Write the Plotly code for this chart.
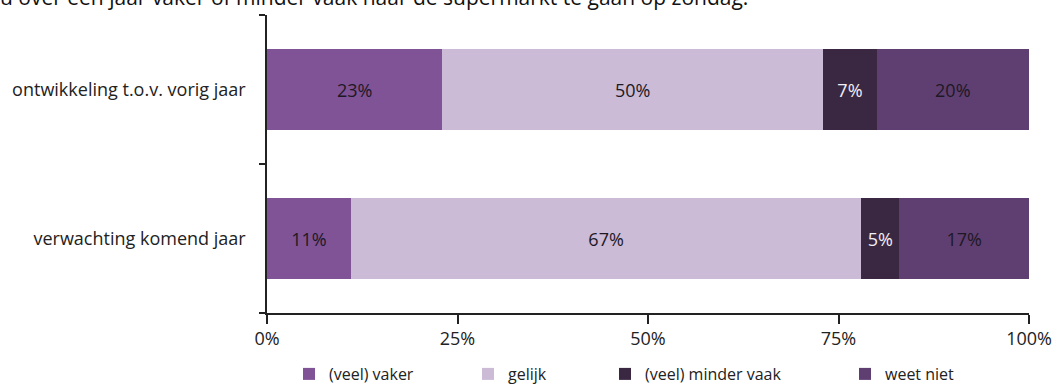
import plotly.graph_objects as go

# Survey answers per question (percentages, stacked to 100%)
categories = ["verwachting komend jaar", "ontwikkeling t.o.v. vorig jaar"]
series_names = ["(veel) vaker", "gelijk", "(veel) minder vaak", "weet niet"]
vaker = [11, 23]
gelijk = [67, 50]
minder_vaak = [5, 7]
weet_niet = [17, 20]
x_ticks = [0, 25, 50, 75, 100]
x_tick_labels = ["0%", "25%", "50%", "75%", "100%"]
header_text = "u over een jaar vaker of minder vaak naar de supermarkt te gaan op zondag."

series_values = [vaker, gelijk, minder_vaak, weet_niet]
colors = ["#7f5396", "#cbbbd6", "#3a2842", "#5f3f72"]
label_colors = ["#1e1824", "#1e1824", "#f2eef5", "#1e1824"]
legend_ids = ["legend", "legend2", "legend3", "legend4"]

FONT = "Open Sans, Liberation Sans, sans-serif"

W, H = 1055, 387
ML, MR, MT, MB = 267, 26, 15, 74
PW = W - ML - MR
PH = H - MT - MB


def px_x(px):
    return (px - ML) / PW


def px_y(py):
    return (MT + PH - py) / PH


fig = go.Figure()
for name, vals, col, lcol, lid in zip(series_names, series_values, colors, label_colors, legend_ids):
    fig.add_trace(go.Bar(
        y=categories,
        x=vals,
        name=name,
        orientation="h",
        marker=dict(color=col, line=dict(width=0)),
        text=[f"{v}%" for v in vals],
        textposition="inside",
        insidetextanchor="middle",
        textfont=dict(family=FONT, size=18, color=lcol),
        legend=lid,
        hoverinfo="skip",
    ))

# one legend per series so each entry sits at its own position
legend_text_px = [330, 509, 646, 886]
legend_common = dict(
    orientation="h",
    xref="container",
    yref="container",
    yanchor="middle",
    xanchor="left",
    y=(H - 374) / H,
    font=dict(family=FONT, size=16, color="#222222"),
    bgcolor="rgba(0,0,0,0)",
    borderwidth=0,
    tracegroupgap=0,
    itemwidth=30,
)
legend_layout = {}
for lid, tx in zip(legend_ids, legend_text_px):
    legend_layout[lid] = dict(legend_common, x=(tx - 41) / W)

axis_font = dict(family=FONT, size=18, color="#222222")

fig.update_layout(
    width=W,
    height=H,
    margin=dict(l=ML, r=MR, t=MT, b=MB, pad=0, autoexpand=False),
    paper_bgcolor="white",
    plot_bgcolor="white",
    barmode="stack",
    bargap=0.45,
    showlegend=True,
    font=dict(family=FONT, size=18, color="#222222"),
    xaxis=dict(
        range=[0, 100],
        tickvals=x_ticks,
        ticktext=x_tick_labels,
        showgrid=False,
        zeroline=False,
        showline=True,
        linecolor="#222222",
        linewidth=1.5,
        ticks="outside",
        ticklen=9,
        tickcolor="#222222",
        tickwidth=1.5,
        tickfont=axis_font,
        automargin=False,
        fixedrange=True,
    ),
    yaxis=dict(
        categoryorder="array",
        categoryarray=categories,
        showgrid=False,
        zeroline=False,
        showline=True,
        linecolor="#222222",
        linewidth=1.5,
        ticks="outside",
        tickson="boundaries",
        ticklen=6,
        tickcolor="#222222",
        tickwidth=1.5,
        ticklabelstandoff=16,
        tickfont=axis_font,
        automargin=False,
        fixedrange=True,
    ),
    **legend_layout,
)

fig.add_annotation(
    text=header_text,
    xref="paper", yref="paper",
    x=px_x(-2), y=px_y(-3),
    xanchor="left", yanchor="middle",
    showarrow=False,
    font=dict(family=FONT, size=21, color="#111111"),
)

fig.write_html("out.html")
